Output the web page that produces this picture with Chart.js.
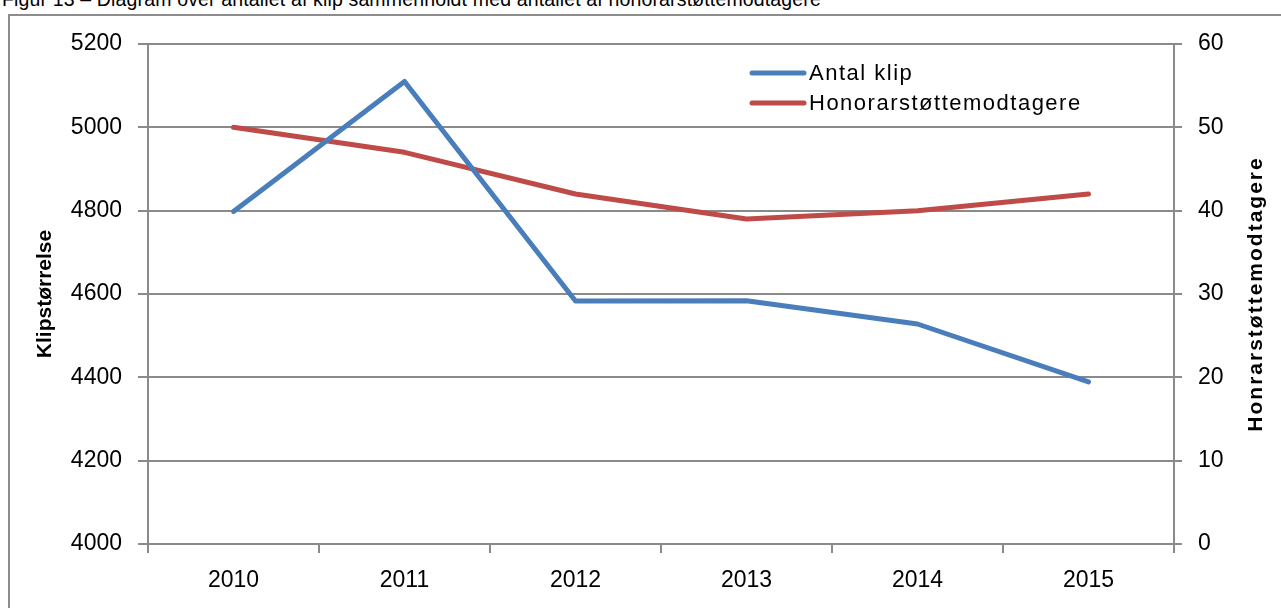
<!DOCTYPE html>
<html>
<head>
<meta charset="utf-8">
<script src="https://cdn.jsdelivr.net/npm/chart.js@4.4.1/dist/chart.umd.min.js"></script>
<style>
    html, body { margin: 0; padding: 0; background: #fff; overflow: hidden; }
    #wrap { position: relative; width: 1281px; height: 608px; }
    #caption {
        position: absolute; left: 2px; top: -10px;
        font: 19.5px "Liberation Sans", Arial, sans-serif; line-height: 19.5px;
        letter-spacing: 0.15px;
        color: #000; white-space: nowrap;
    }
    #frame {
        position: absolute; left: 8px; top: 14px; width: 1300px; height: 700px;
        border: 2px solid #8c8c8c; box-sizing: border-box;
    }
    canvas { position: absolute; left: 0; top: 0; }
</style>
</head>
<body>
<div id="wrap">
    <div id="caption">Figur 13 – Diagram over antallet af klip sammenholdt med antallet af honorarstøttemodtagere</div>
    <div id="frame"></div>
    <canvas id="chart" width="1281" height="608"></canvas>
</div>
<script>
// Data
const years = ['2010', '2011', '2012', '2013', '2014', '2015'];
const antalKlip = [4798, 5110, 4583, 4584, 4528, 4389];
const honorarModtagere = [50, 47, 42, 39, 40, 42];

const leftTicks = [4000, 4200, 4400, 4600, 4800, 5000, 5200];
const rightTicks = [0, 10, 20, 30, 40, 50, 60];

const leftTitle = 'Klipstørrelse';
const rightTitle = 'Honrarstøttemodtagere';

const COLORS = {
    blue: '#4a7ebb',
    red: '#be4b48',
    axis: '#8a8a8a',
    text: '#000000',
};
const FONT = '"Liberation Sans", Arial, sans-serif';

// legend drawn inside the plot, like the Excel original
const insideLegend = {
    id: 'insideLegend',
    afterDraw(chart) {
        const ctx = chart.ctx;
        ctx.save();
        ctx.font = '22px ' + FONT;
        ctx.letterSpacing = '1.5px';
        ctx.textBaseline = 'middle';
        chart.data.datasets.forEach((ds, i) => {
            const y = 73 + i * 30;
            ctx.strokeStyle = ds.borderColor;
            ctx.lineWidth = 5;
            ctx.lineCap = 'round';
            ctx.beginPath();
            ctx.moveTo(752, y);
            ctx.lineTo(804, y);
            ctx.stroke();
            ctx.fillStyle = COLORS.text;
            ctx.fillText(ds.label, 809, y + 1);
        });
        ctx.restore();
    },
};

// both axis titles read bottom-to-top, so they are drawn here
const axisTitles = {
    id: 'axisTitles',
    afterDraw(chart) {
        const ctx = chart.ctx;
        const mid = (chart.chartArea.top + chart.chartArea.bottom) / 2;
        const draw = (text, x, spacing) => {
            ctx.save();
            ctx.translate(x, mid);
            ctx.rotate(-Math.PI / 2);
            ctx.font = 'bold 21px ' + FONT;
            ctx.letterSpacing = spacing;
            ctx.textAlign = 'center';
            ctx.textBaseline = 'middle';
            ctx.fillStyle = COLORS.text;
            ctx.fillText(text, 0, 0);
            ctx.restore();
        };
        draw(leftTitle, 45, '0px');
        draw(rightTitle, 1256, '2px');
    },
};

const tickFont = { family: FONT, size: 23 };

new Chart(document.getElementById('chart'), {
    type: 'line',
    data: {
        labels: years,
        datasets: [
            {
                label: 'Antal klip',
                data: antalKlip,
                yAxisID: 'y',
                borderColor: COLORS.blue,
                borderWidth: 5,
                pointRadius: 0,
                borderCapStyle: 'round',
                borderJoinStyle: 'round',
                tension: 0,
            },
            {
                label: 'Honorarstøttemodtagere',
                data: honorarModtagere,
                yAxisID: 'y1',
                borderColor: COLORS.red,
                borderWidth: 5,
                pointRadius: 0,
                borderCapStyle: 'round',
                borderJoinStyle: 'round',
                tension: 0,
            },
        ],
    },
    options: {
        responsive: false,
        animation: false,
        layout: { padding: { top: 44, left: 0, right: 0, bottom: 0 } },
        plugins: {
            legend: { display: false },
            tooltip: { enabled: false },
        },
        scales: {
            x: {
                offset: true,
                grid: {
                    offset: true,
                    drawOnChartArea: false,
                    drawTicks: true,
                    tickLength: 9,
                    color: COLORS.axis,
                    lineWidth: 2,
                },
                border: { color: COLORS.axis, width: 2 },
                ticks: { color: COLORS.text, font: tickFont, padding: 14, maxRotation: 0 },
                afterFit: (s) => { s.height = 64; },
            },
            y: {
                position: 'left',
                min: 4000,
                max: 5200,
                afterBuildTicks: (s) => { s.ticks = leftTicks.map(v => ({ value: v })); },
                grid: { color: COLORS.axis, lineWidth: 2, tickLength: 10 },
                border: { color: COLORS.axis, width: 2 },
                ticks: { color: COLORS.text, font: tickFont, padding: 16, callback: (v) => String(v) },
                afterFit: (s) => { s.width = 148; },
            },
            y1: {
                position: 'right',
                min: 0,
                max: 60,
                afterBuildTicks: (s) => { s.ticks = rightTicks.map(v => ({ value: v })); },
                grid: { drawOnChartArea: false, color: COLORS.axis, lineWidth: 2, tickLength: 8 },
                border: { color: COLORS.axis, width: 2 },
                ticks: { color: COLORS.text, font: tickFont, padding: 16, callback: (v) => String(v) },
                afterFit: (s) => { s.width = 107; },
            },
        },
    },
    plugins: [insideLegend, axisTitles],
});
</script>
</body>
</html>
